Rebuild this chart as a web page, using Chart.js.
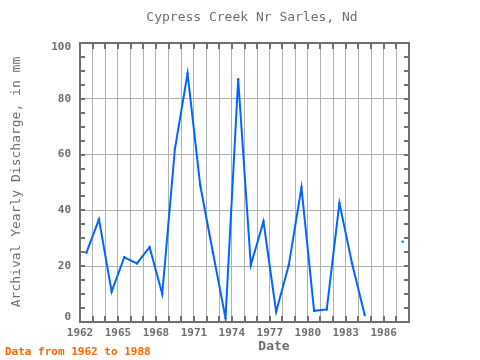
<!DOCTYPE html>
<html>
<head>
<meta charset="utf-8">
<script src="https://cdn.jsdelivr.net/npm/chart.js@4/dist/chart.umd.min.js"></script>
<style>
html,body{margin:0;padding:0;background:#fff;}
#wrap{width:480px;height:360px;position:relative;}
</style>
</head>
<body>
<div id="wrap"><canvas id="c" width="480" height="360"></canvas></div>
<script>
// Water years and archival yearly discharge (mm); null = missing
const years = [1962,1963,1964,1965,1966,1967,1968,1969,1970,1971,1972,1973,1974,1975,1976,1977,1978,1979,1980,1981,1982,1983,1984,1985,1986,1987];
const discharge = [24.8,36.8,10.9,23.2,21.0,26.8,10.0,62,89.1,49,25,1.4,87,20.4,36,3.7,20.4,48.2,4.0,4.5,42.6,21,2.5,null,null,28.8];
const xTickYears = [1962,1965,1968,1971,1974,1977,1980,1983,1986];
const yTickValues = [0,20,40,60,80,100];

const titleText = "Cypress Creek Nr Sarles, Nd";
const yTitle = "Archival Yearly Discharge, in mm";
const xTitle = "Date";
const footer = "Data from 1962 to 1988";

const points = years.map((y,i)=>({x:y+0.5, y:discharge[i]}));
const MONO = '"DejaVu Sans Mono", "Liberation Mono", monospace';
const GREY = '#6e6e6e';

const decor = {
  id:'decor',
  afterDraw(chart){
    const ctx = chart.ctx, a = chart.chartArea;
    const xs = chart.scales.x, ys = chart.scales.y;
    ctx.save();
    // inner tick marks
    ctx.strokeStyle = '#707070';
    ctx.lineWidth = 2;
    for(let v=1962; v<=1988; v++){
      const px = Math.round(xs.getPixelForValue(v));
      ctx.beginPath();
      ctx.moveTo(px, a.bottom); ctx.lineTo(px, a.bottom-6);
      ctx.moveTo(px, a.top); ctx.lineTo(px, a.top+6);
      ctx.stroke();
    }
    for(let v=0; v<=100; v+=5){
      const py = Math.round(ys.getPixelForValue(v));
      ctx.beginPath();
      ctx.moveTo(a.left, py); ctx.lineTo(a.left+5, py);
      ctx.moveTo(a.right, py); ctx.lineTo(a.right-5, py);
      ctx.stroke();
    }
    // frame
    ctx.lineWidth = 2;
    ctx.strokeRect(a.left, a.top, a.right-a.left, a.bottom-a.top);
    // y tick labels (kept inside the frame height like the reference)
    ctx.fillStyle = GREY;
    ctx.textAlign = 'right';
    ctx.textBaseline = 'middle';
    ctx.font = 'bold 11px ' + MONO;
    yTickValues.forEach(v=>{
      let py = ys.getPixelForValue(v);
      py = Math.min(Math.max(py, a.top+4), a.bottom-5);
      ctx.fillText(String(v), a.left-9, py);
    });
    // texts
    ctx.textAlign = 'center';
    ctx.font = '13px ' + MONO;
    ctx.fillText(titleText, 252, 18);
    ctx.font = 'bold 13px ' + MONO;
    ctx.fillText(xTitle, 274, 347);
    ctx.save();
    ctx.translate(17, 182);
    ctx.rotate(-Math.PI/2);
    ctx.font = '13px ' + MONO;
    ctx.fillText(yTitle, 0, 0);
    ctx.restore();
    ctx.fillStyle = '#ff6600';
    ctx.textAlign = 'left';
    ctx.font = 'bold 11px ' + MONO;
    ctx.fillText(footer, 5, 352);
    ctx.restore();
  }
};

new Chart(document.getElementById('c'), {
  type:'line',
  data:{datasets:[{
    data: points,
    borderColor:'#0066ff',
    backgroundColor:'#0066ff',
    borderWidth:2,
    pointRadius:1.2,
    pointHoverRadius:1.2,
    pointBorderWidth:0,
    spanGaps:false,
    tension:0
  }]},
  options:{
    responsive:false,
    animation:false,
    events:[],
    layout:{padding:{top:43,right:71,left:0,bottom:0}},
    plugins:{legend:{display:false},title:{display:false},tooltip:{enabled:false}},
    scales:{
      x:{
        type:'linear', min:1962, max:1988,
        afterFit(s){ s.height = 38; },
        afterBuildTicks(s){ s.ticks = []; for(let v=1962; v<=1988; v++) s.ticks.push({value:v}); },
        ticks:{
          autoSkip:false, maxRotation:0, padding:5,
          color:GREY, font:{family:MONO, size:11, weight:'bold'},
          callback:(v)=> xTickYears.includes(v) ? String(v) : ''
        },
        grid:{color:'#b0b0b0', lineWidth:1, drawTicks:false},
        border:{display:false}
      },
      y:{
        min:0, max:100,
        afterFit(s){ s.width = 80; },
        afterBuildTicks(s){ s.ticks = yTickValues.map(v=>({value:v})); },
        ticks:{ display:false },
        grid:{color:'#b0b0b0', lineWidth:1, drawTicks:false},
        border:{display:false}
      }
    }
  },
  plugins:[decor]
});
</script>
</body>
</html>
